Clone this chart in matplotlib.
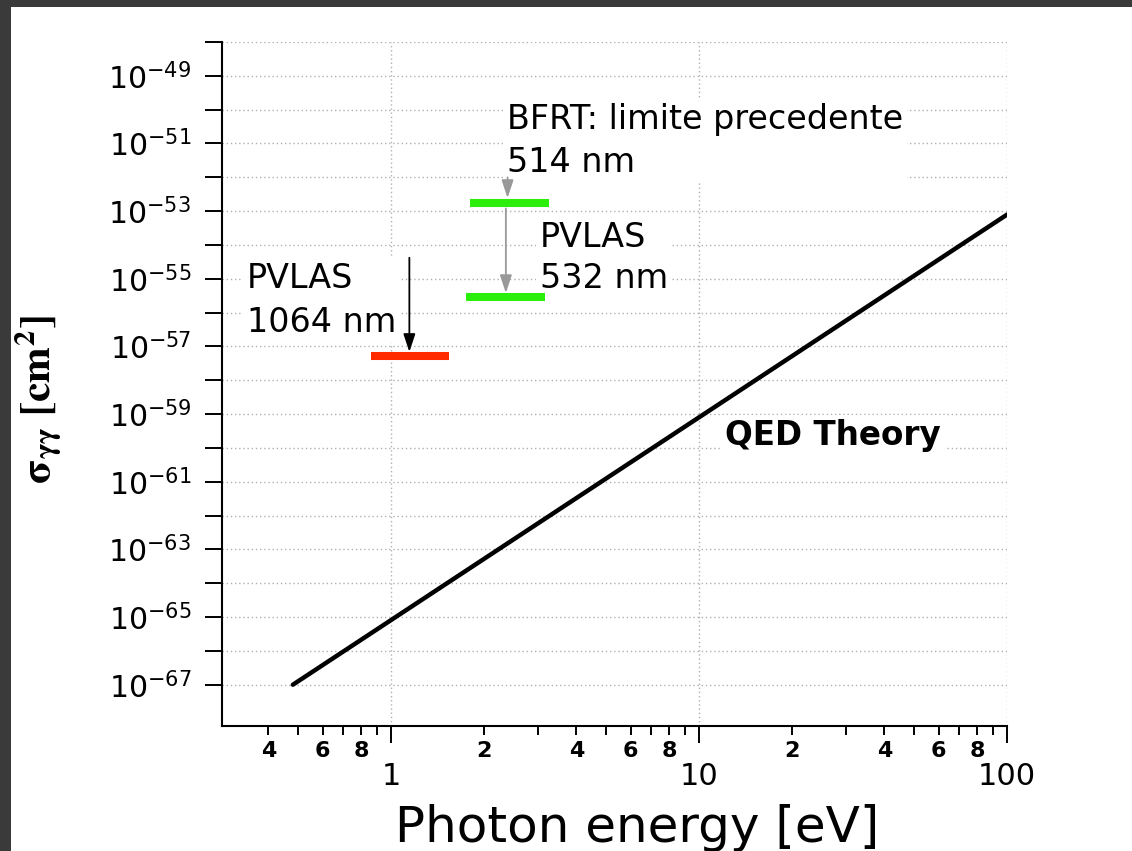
import numpy as np
import matplotlib
matplotlib.use("Agg")
import matplotlib.pyplot as plt
from matplotlib.patches import Rectangle
from matplotlib.ticker import FixedLocator, FuncFormatter, NullFormatter

# ---------------- data ----------------
qed_energy_eV = [0.48, 100.0]
qed_sigma_cm2 = [1.0e-67, 7.9e-54]

limit_labels = ["PVLAS 1064 nm", "BFRT 514 nm", "PVLAS 532 nm"]
limit_emin = [0.86, 1.80, 1.75]
limit_emax = [1.54, 3.26, 3.16]
limit_sigma = [5.2e-58, 1.7e-53, 2.9e-56]
limit_colors = ["#ff2a00", "#2bee0a", "#2bee0a"]

arrow_energy = [1.147, 2.39, 2.36]
arrow_from = [4.2e-55, 1.0e-52, 1.2e-53]
arrow_to = [6.9e-58, 2.45e-53, 3.8e-56]
arrow_colors = ["black", "#999999", "#999999"]

x_major_ticks = [1, 10, 100]
x_major_labels = ["1", "10", "100"]
x_minor_ticks = [0.4, 0.5, 0.6, 0.7, 0.8, 0.9,
                 2, 3, 4, 5, 6, 7, 8, 9,
                 20, 30, 40, 50, 60, 70, 80, 90]
x_minor_labelled = [2, 4, 6, 8]
y_exponents = list(range(-67, -47))
y_labelled_exponents = list(range(-67, -48, 2))

# ---------------- figure ----------------
W, H = 1132, 851
fig = plt.figure(figsize=(W / 100, H / 100), dpi=100)
fig.patch.set_facecolor("#3a3a3a")
fig.patches.append(Rectangle((11 / W, 0), 1 - 11 / W, 1 - 7 / H,
                             transform=fig.transFigure, facecolor="white",
                             edgecolor="none", zorder=-10))

left, right, top, bottom = 221.7, 1007, 42, 726
ax = fig.add_axes([left / W, 1 - bottom / H, (right - left) / W, (bottom - top) / H])
ax.set_facecolor("none")
ax.set_xscale("log")
ax.set_yscale("log")
ax.set_xlim(0.282, 100)
ax.set_ylim(10 ** -68.22, 1e-48)

for s in ["top", "right"]:
    ax.spines[s].set_visible(False)
for s in ["left", "bottom"]:
    ax.spines[s].set_linewidth(1.5)

# ticks
ax.xaxis.set_major_locator(FixedLocator(x_major_ticks))
ax.xaxis.set_major_formatter(FuncFormatter(
    lambda v, p: x_major_labels[x_major_ticks.index(int(round(v)))] if int(round(v)) in x_major_ticks else ""))
ax.xaxis.set_minor_locator(FixedLocator(x_minor_ticks))


def minor_fmt(v, p):
    m = v / 10 ** np.floor(np.log10(v) + 1e-9)
    mi = int(round(m))
    return str(mi) if mi in x_minor_labelled else ""


ax.xaxis.set_minor_formatter(FuncFormatter(minor_fmt))

ax.yaxis.set_major_locator(FixedLocator([10.0 ** e for e in y_exponents]))
ax.yaxis.set_minor_locator(FixedLocator([]))


def y_fmt(v, p):
    e = int(round(np.log10(v)))
    return r"$10^{%d}$" % e if e in y_labelled_exponents else ""


ax.yaxis.set_major_formatter(FuncFormatter(y_fmt))
ax.yaxis.set_minor_formatter(NullFormatter())

ax.tick_params(axis="x", which="major", direction="out", length=12, width=1.4,
               labelsize=22, pad=14)
ax.tick_params(axis="x", which="minor", direction="out", length=6.5, width=1.4,
               labelsize=16, pad=4)
ax.tick_params(axis="y", which="major", direction="out", length=12, width=1.4,
               labelsize=21.5, pad=10)

# grid
ax.set_axisbelow(True)
ax.grid(True, which="major", axis="both", color="#b0b0b0", linestyle=(0, (1, 2)),
        linewidth=1.0)

# QED line
ax.plot(qed_energy_eV, qed_sigma_cm2, color="black", lw=3.2, solid_capstyle="round",
        zorder=6)

# limit bars
for e0, e1, s, c in zip(limit_emin, limit_emax, limit_sigma, limit_colors):
    ax.plot([e0, e1], [s, s], color=c, lw=5.8, solid_capstyle="butt", zorder=6)

# arrows
for x, y0, y1, c in zip(arrow_energy, arrow_from, arrow_to, arrow_colors):
    ax.annotate("", xy=(x, y1), xytext=(x, y0),
                arrowprops=dict(arrowstyle="-|>,head_length=0.9,head_width=0.3",
                                color=c, lw=1.3, mutation_scale=12,
                                shrinkA=0, shrinkB=0), zorder=7)

# text blocks (anchored at the baseline of their last line)
box = dict(facecolor="white", edgecolor="none", pad=3)
ax.text(2.381, 1.47e-52, "BFRT: limite precedente\n514 nm", fontsize=24,
        ha="left", va="baseline", linespacing=1.37, bbox=box, zorder=4)
ax.text(3.05, 5.37e-56, "PVLAS\n532 nm", fontsize=24,
        ha="left", va="baseline", linespacing=1.31, bbox=box, zorder=4)
ax.text(0.340, 2.75e-57, "PVLAS\n1064 nm", fontsize=24,
        ha="left", va="baseline", linespacing=1.41, bbox=box, zorder=4)
ax.text(12.15, 1.23e-60, "QED Theory", fontsize=23.5, fontweight="bold",
        ha="left", va="baseline", bbox=box, zorder=4)

# axis labels
ax.set_xlabel("Photon energy [eV]", fontsize=36, va="baseline")
ax.xaxis.set_label_coords((636.7 - left) / (right - left), (bottom - 842) / (bottom - top))
ax.set_ylabel(r"$\mathbf{\sigma_{\gamma\gamma}\ [cm^{2}]}$", fontsize=31,
              math_fontfamily="stix", ha="center", va="center")
ax.yaxis.set_label_coords((38 - left) / (right - left), (bottom - 400) / (bottom - top))

for lab in ax.xaxis.get_minorticklabels():
    lab.set_fontweight("bold")

fig.savefig("out.png", dpi=100, facecolor=fig.get_facecolor())
